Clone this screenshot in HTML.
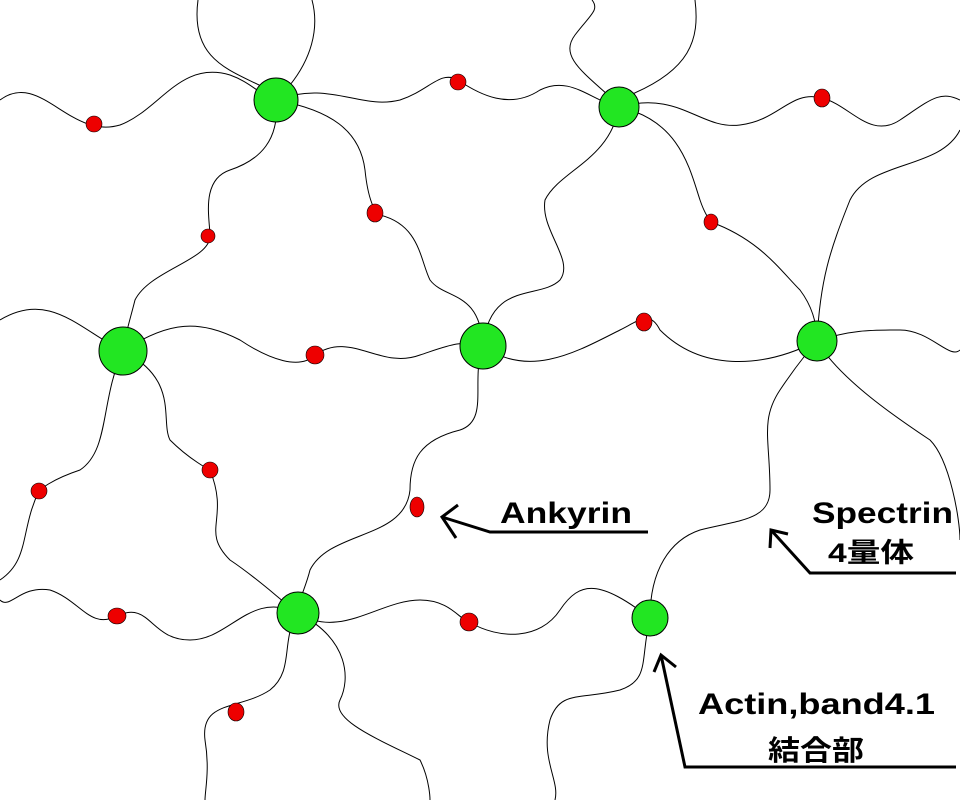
<!DOCTYPE html>
<html><head><meta charset="utf-8"><style>
html,body{margin:0;padding:0;background:#fff;}
svg{display:block;}
text{font-family:"Liberation Sans","Noto Sans CJK JP",sans-serif;font-weight:bold;fill:#000;}
</style></head><body>
<svg width="960" height="800" viewBox="0 0 960 800" xmlns="http://www.w3.org/2000/svg">
<g fill="none" stroke="#000" stroke-width="1">
<path d="M0,100 C40,70 70,140 120,125 C160,110 180,60 230,75 C250,82 260,95 276,100"/>
<path d="M265,88 C230,70 190,60 198,0"/>
<path d="M290,85 C310,60 320,30 312,0"/>
<path d="M276,100 C330,80 360,110 400,100 C430,90 440,70 458,80 C480,95 510,110 540,90 C570,75 590,100 619,107"/>
<path d="M608,95 C580,70 560,55 575,35 C590,15 600,10 592,0"/>
<path d="M630,95 C690,70 700,40 695,0"/>
<path d="M619,107 C680,90 700,130 740,125 C780,120 790,90 822,98 C850,105 870,140 900,120 C930,100 940,90 960,100"/>
<path d="M276,100 C280,140 260,160 230,170 C200,180 210,220 210,236 C210,260 150,270 135,300 C130,320 125,335 123,351"/>
<path d="M276,100 C330,110 360,130 365,170 C368,200 375,213 380,215 C420,225 420,260 430,280 C445,300 480,290 483,346"/>
<path d="M619,107 C610,160 560,170 545,200 C540,230 575,260 560,280 C540,300 490,280 483,346"/>
<path d="M619,107 C680,120 690,170 700,200 C705,215 711,222 711,222 C760,240 780,270 800,290 C815,310 817,330 817,341"/>
<path d="M817,341 C820,280 830,250 850,200 C870,160 940,170 960,130"/>
<path d="M817,341 C850,330 870,330 900,330 C930,330 950,360 960,350"/>
<path d="M817,341 C840,380 900,420 930,440 C950,460 960,520 960,540"/>
<path d="M123,351 C80,330 50,290 0,320"/>
<path d="M123,351 C170,320 200,320 240,340 C270,360 300,370 315,355 C350,330 380,370 420,355 C450,345 460,340 483,346"/>
<path d="M483,346 C530,380 580,350 620,330 C640,320 650,310 660,330 C700,370 760,370 817,341"/>
<path d="M483,346 C470,380 490,420 460,430 C420,440 410,460 410,490 C405,540 330,530 310,570 C305,590 298,600 298,613"/>
<path d="M123,351 C180,380 160,420 170,440 C190,460 210,470 210,470 C230,520 200,530 230,560 C260,580 280,600 298,613"/>
<path d="M123,351 C100,400 110,450 80,470 C50,480 40,490 39,491 C20,530 30,560 0,580"/>
<path d="M298,613 C250,590 230,640 190,640 C150,640 150,600 117,616 C90,630 80,600 50,590 C20,585 10,610 0,600"/>
<path d="M298,613 C340,640 380,600 420,600 C450,600 460,620 469,622 C500,640 540,640 560,610 C580,580 600,580 650,618"/>
<path d="M650,618 C650,570 670,540 700,530 C740,520 770,520 770,490 C770,440 760,420 780,390 C800,360 817,341 817,341"/>
<path d="M650,618 C640,660 650,680 620,690 C580,700 560,690 550,720 C540,760 560,780 555,800"/>
<path d="M298,613 C280,640 295,670 270,690 C240,710 200,700 205,740 C210,770 205,790 205,800"/>
<path d="M298,613 C350,640 350,680 340,700 C330,720 380,740 420,760 C430,780 430,800 430,800"/>
</g>
<g fill="#22e622" stroke="#000" stroke-width="1">
<circle cx="276" cy="100" r="22"/><circle cx="619" cy="107" r="20"/>
<circle cx="123" cy="351" r="24"/><circle cx="483" cy="346" r="23"/>
<circle cx="817" cy="341" r="20"/><circle cx="298" cy="613" r="21"/>
<circle cx="650" cy="618" r="18"/>
</g>
<g fill="#ee0000" stroke="#000" stroke-width="0.6">
<ellipse cx="94" cy="124" rx="8" ry="8"/><ellipse cx="458" cy="82" rx="8" ry="8"/>
<ellipse cx="822" cy="98" rx="8" ry="9"/><ellipse cx="208" cy="236" rx="7" ry="7"/>
<ellipse cx="375" cy="213" rx="8" ry="9"/><ellipse cx="711" cy="222" rx="7" ry="8"/>
<ellipse cx="315" cy="355" rx="9" ry="9"/><ellipse cx="644" cy="322" rx="8" ry="9"/>
<ellipse cx="210" cy="470" rx="8" ry="8"/><ellipse cx="39" cy="491" rx="8" ry="8"/>
<ellipse cx="417" cy="507" rx="7" ry="10"/><ellipse cx="117" cy="616" rx="9" ry="8"/>
<ellipse cx="469" cy="622" rx="9" ry="9"/><ellipse cx="236" cy="712" rx="8" ry="9"/>
</g>
<g fill="none" stroke="#000" stroke-width="3" stroke-linejoin="miter">
<path d="M648,532 L490,532 L442,517"/><path d="M458,505 L442,517 L456,538"/>
<path d="M956,573 L810,573 L771,530"/><path d="M770,548 L771,530 L788,534"/>
<path d="M956,767 L685,767 L661,655"/><path d="M654,672 L661,655 L676,667"/>
</g>
<text x="500" y="523" font-size="30" textLength="132" lengthAdjust="spacingAndGlyphs">Ankyrin</text>
<text x="812" y="523" font-size="30" textLength="141" lengthAdjust="spacingAndGlyphs">Spectrin</text>
<text x="828" y="562" font-size="27" textLength="86" lengthAdjust="spacingAndGlyphs">4量体</text>
<text x="698" y="714" font-size="30" textLength="237" lengthAdjust="spacingAndGlyphs">Actin,band4.1</text>
<text x="768" y="760" font-size="28" textLength="96" lengthAdjust="spacingAndGlyphs">結合部</text>
</svg>
</body></html>
